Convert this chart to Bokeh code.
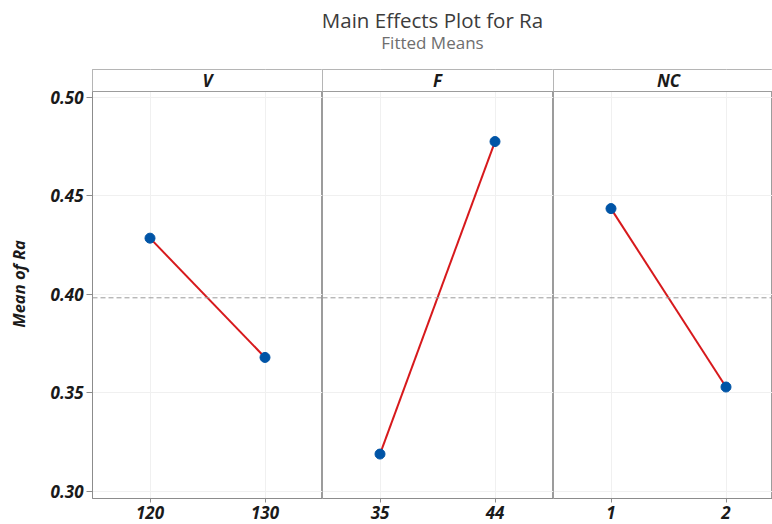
import numpy as np
from bokeh.plotting import figure
from bokeh.layouts import column, row
from bokeh.models import Range1d, FixedTicker, Span, BoxAnnotation, Label, ColumnDataSource
from bokeh.embed import file_html
from bokeh.resources import INLINE

# ---- data ----
factors = ["V", "F", "NC"]
levels_V = ["120", "130"]
levels_F = ["35", "44"]
levels_NC = ["1", "2"]
means_V = [0.4285, 0.368]
means_F = [0.319, 0.4775]
means_NC = [0.4435, 0.353]
y_ticks = [0.30, 0.35, 0.40, 0.45, 0.50]
y_tick_labels = ["0.30", "0.35", "0.40", "0.45", "0.50"]
title_text = "Main Effects Plot for Ra"
subtitle_text = "Fitted Means"
y_label = "Mean of Ra"

levels = [levels_V, levels_F, levels_NC]
means = [means_V, means_F, means_NC]
grand_mean = float(np.mean(means_V + means_F + means_NC))

FONT = "Open Sans"
AXIS_GREY = "#8c8c8c"
OUTLINE_GREY = "#9c9c9c"
GRID = "#f0f0f0"
LINE_RED = "#d7191c"
PT_BLUE = "#0054a6"
TXT = "#1a1a1a"

panel_w = [230, 231, 219]
left_pad = 92
title_h = 69
hdr_px = 22
plot_px = 407
bottom_pad = 26
px_per_x = 115.0
px_per_y = 1971.5

y_bottom = 0.30 - 7 / px_per_y
hdr_bottom = 0.50 + 5.7 / px_per_y
y_top = hdr_bottom + hdr_px / px_per_y
y_rng = Range1d(y_bottom, y_top)

plots = []
for i, (name, lev, mv) in enumerate(zip(factors, levels, means)):
    w = panel_w[i] + (left_pad if i == 0 else 0)
    xr = Range1d(-0.5, -0.5 + panel_w[i] / px_per_x)
    p = figure(width=w, height=hdr_px + plot_px + bottom_pad, x_range=xr, y_range=y_rng,
               toolbar_location=None, output_backend="svg",
               min_border_left=left_pad if i == 0 else 0, min_border_right=0,
               min_border_top=0, min_border_bottom=bottom_pad)
    p.outline_line_color = OUTLINE_GREY
    p.outline_line_width = 1
    p.background_fill_color = "white"
    p.border_fill_color = "white"

    xs = list(range(len(lev)))
    src = ColumnDataSource(dict(x=xs, y=mv))
    p.add_layout(Span(location=grand_mean, dimension="width", line_color="#9a9a9a",
                      line_dash="5 3", line_width=1))
    p.line("x", "y", source=src, line_color=LINE_RED, line_width=2)
    p.scatter("x", "y", source=src, size=10, fill_color=PT_BLUE, line_color=PT_BLUE)

    # header strip
    p.add_layout(BoxAnnotation(bottom=hdr_bottom, fill_color="white", fill_alpha=1.0,
                               line_color=None))
    p.add_layout(Span(location=hdr_bottom, dimension="width", line_color=OUTLINE_GREY,
                      line_width=1))
    p.add_layout(Label(x=(xs[0] + xs[-1]) / 2, y=(hdr_bottom + y_top) / 2, text=name,
                       text_align="center", text_baseline="middle", text_font=FONT,
                       text_font_size="17px", text_font_style="bold italic",
                       text_color=TXT))

    p.xaxis.ticker = FixedTicker(ticks=xs)
    p.xaxis.major_label_overrides = {x: l for x, l in zip(xs, lev)}
    p.xaxis.axis_line_color = AXIS_GREY
    p.xaxis.major_tick_line_color = AXIS_GREY
    p.xaxis.major_tick_out = 4
    p.xaxis.major_tick_in = 0
    p.xaxis.minor_tick_line_color = None
    p.xaxis.major_label_text_font = FONT
    p.xaxis.major_label_text_font_size = "17px"
    p.xaxis.major_label_text_font_style = "bold italic"
    p.xaxis.major_label_text_color = TXT
    p.xaxis.major_label_standoff = 3

    p.yaxis.ticker = FixedTicker(ticks=y_ticks)
    p.yaxis.major_label_overrides = {t: l for t, l in zip(y_ticks, y_tick_labels)}
    if i == 0:
        p.yaxis.bounds = (y_bottom, hdr_bottom)
        p.yaxis.axis_line_color = AXIS_GREY
        p.yaxis.major_tick_line_color = AXIS_GREY
        p.yaxis.major_tick_out = 6
        p.yaxis.major_tick_in = 0
        p.yaxis.minor_tick_line_color = None
        p.yaxis.major_label_text_font = FONT
        p.yaxis.major_label_text_font_size = "17px"
        p.yaxis.major_label_text_font_style = "bold italic"
        p.yaxis.major_label_text_color = TXT
        p.yaxis.major_label_standoff = 3
        p.yaxis.axis_label = y_label
        p.yaxis.axis_label_text_font = FONT
        p.yaxis.axis_label_text_font_size = "16.5px"
        p.yaxis.axis_label_text_font_style = "bold italic"
        p.yaxis.axis_label_text_color = TXT
        p.yaxis.axis_label_standoff = 18
    else:
        p.yaxis.visible = False

    p.xgrid.ticker = FixedTicker(ticks=xs)
    p.ygrid.ticker = FixedTicker(ticks=y_ticks)
    p.grid.grid_line_color = GRID
    p.grid.grid_line_width = 1
    plots.append(p)

# title strip
total_w = sum(panel_w) + left_pad
tf = figure(width=total_w, height=title_h, x_range=Range1d(0, 1), y_range=Range1d(0, title_h),
            toolbar_location=None, output_backend="svg", title=None,
            min_border_left=left_pad, min_border_right=0, min_border_top=0, min_border_bottom=0)
tf.axis.visible = False
tf.grid.visible = False
tf.outline_line_color = None
tf.border_fill_color = "white"
tf.add_layout(Label(x=0.5, y=title_h - 19, text=title_text, text_align="center",
                    text_baseline="middle", text_font=FONT, text_font_size="20.5px",
                    text_color="#3c3c3c"))
tf.add_layout(Label(x=0.5, y=title_h - 41.5, text=subtitle_text, text_align="center",
                    text_baseline="middle", text_font=FONT, text_font_size="17px",
                    text_color="#6e6e6e"))

layout = column(tf, row(*plots, spacing=0), spacing=0)

open("out.html", "w").write(file_html(layout, INLINE))
